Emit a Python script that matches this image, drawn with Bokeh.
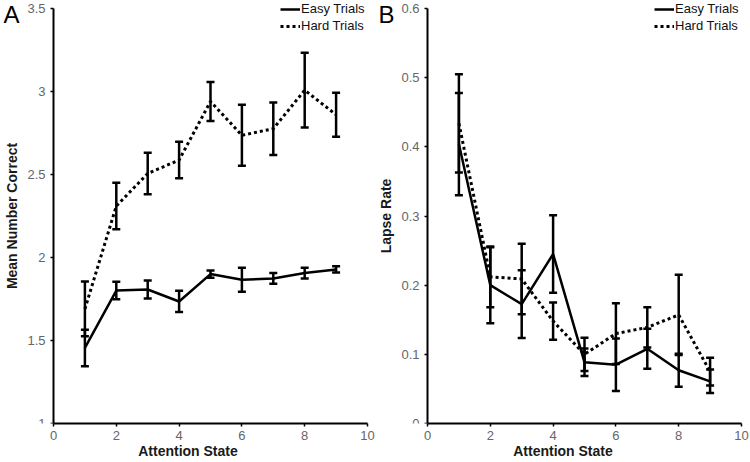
from bokeh.plotting import figure
from bokeh.layouts import row
from bokeh.models import (ColumnDataSource, Whisker, TeeHead, FixedTicker,
                          CustomJSTickFormatter, Legend, LegendItem, Range1d, Label)
from bokeh.embed import file_html
from bokeh.resources import INLINE

# ---------------- data ----------------
attention_state = [1, 2, 3, 4, 5, 6, 7, 8, 9]

easy_correct = [1.455, 1.801, 1.807, 1.735, 1.900, 1.866, 1.874, 1.906, 1.928]
easy_correct_err = [0.110, 0.053, 0.054, 0.064, 0.022, 0.073, 0.032, 0.033, 0.019]
hard_correct = [1.690, 2.310, 2.506, 2.587, 2.940, 2.736, 2.776, 3.008, 2.860]
hard_correct_err = [0.165, 0.140, 0.125, 0.110, 0.117, 0.184, 0.158, 0.225, 0.133]

easy_lapse = [0.404, 0.200, 0.1725, 0.245, 0.0885, 0.085, 0.108, 0.077, 0.061]
easy_lapse_err = [0.074, 0.055, 0.049, 0.056, 0.020, 0.038, 0.029, 0.024, 0.017]
hard_lapse = [0.434, 0.212, 0.209, 0.148, 0.100, 0.130, 0.139, 0.157, 0.075]
hard_lapse_err = [0.071, 0.044, 0.051, 0.027, 0.024, 0.044, 0.029, 0.058, 0.020]

x_ticks = [0, 2, 4, 6, 8, 10]
left_y_ticks = [1, 1.5, 2, 2.5, 3, 3.5]
right_y_ticks = [0, 0.1, 0.2, 0.3, 0.4, 0.5, 0.6]

FONT = "Liberation Sans"
fmt = CustomJSTickFormatter(code="return tick.toString();")

FIG_W = 375
FIG_H = 462
BORDER_BOTTOM = 39
FRAME_H = FIG_H - BORDER_BOTTOM      # frame covers the whole figure above the x axis
PLOT_TOP = 8                          # pixel row of the top of the value axis


def make_panel(pad_left, pad_right, y_lim, y_ticks, y_label,
               easy, easy_err, hard, hard_err, letter):
    # the frame spans the whole panel; axes are pinned at x = 0 and bounded,
    # so that the legend and panel letter can sit where the reference has them
    x_lim = (0, 10)
    px_x = (FIG_W - pad_left - pad_right) / (x_lim[1] - x_lim[0])
    px_y = (FRAME_H - PLOT_TOP) / (y_lim[1] - y_lim[0])
    xr = Range1d(x_lim[0] - pad_left / px_x, x_lim[1] + pad_right / px_x)
    yr = Range1d(y_lim[0], y_lim[1] + PLOT_TOP / px_y)

    p = figure(width=FIG_W, height=FIG_H, output_backend="svg", toolbar_location=None,
               x_range=xr, y_range=yr,
               min_border_left=0, min_border_right=0,
               min_border_top=0, min_border_bottom=BORDER_BOTTOM)
    p.outline_line_color = None
    p.grid.visible = False
    p.background_fill_color = "white"
    p.border_fill_color = "white"

    for ax in (p.xaxis[0], p.yaxis[0]):
        ax.axis_line_color = "black"
        ax.axis_line_width = 2
        ax.major_tick_line_color = "black"
        ax.major_tick_line_width = 1.5
        ax.major_tick_out = 3
        ax.major_tick_in = 0
        ax.minor_tick_line_color = None
        ax.major_label_text_font = FONT
        ax.major_label_text_font_size = "13px"
        ax.major_label_text_color = "#666666"
        ax.axis_label_text_font = FONT
        ax.axis_label_text_font_size = "14px"
        ax.axis_label_text_font_style = "bold"
        ax.axis_label_text_color = "#1a1a1a"
        ax.formatter = fmt
    xa, ya = p.xaxis[0], p.yaxis[0]
    xa.ticker = FixedTicker(ticks=x_ticks)
    ya.ticker = FixedTicker(ticks=y_ticks)
    xa.bounds = x_lim
    ya.bounds = y_lim
    ya.fixed_location = 0
    xa.axis_label = "Attention State"
    ya.axis_label = y_label
    xa.major_label_standoff = 4
    xa.axis_label_standoff = 0
    ya.major_label_standoff = 5
    ya.axis_label_standoff = 4

    src_e = ColumnDataSource(dict(
        x=attention_state, y=easy,
        lo=[m - e for m, e in zip(easy, easy_err)],
        hi=[m + e for m, e in zip(easy, easy_err)]))
    src_h = ColumnDataSource(dict(
        x=attention_state, y=hard,
        lo=[m - e for m, e in zip(hard, hard_err)],
        hi=[m + e for m, e in zip(hard, hard_err)]))

    r_e = p.line("x", "y", source=src_e, line_color="black", line_width=2.5)
    r_h = p.line("x", "y", source=src_h, line_color="black", line_width=3,
                 line_dash="3 3")

    for src in (src_e, src_h):
        w = Whisker(base="x", lower="lo", upper="hi", source=src,
                    line_color="black", line_width=2.5,
                    upper_head=TeeHead(size=8, line_width=2.5, line_color="black"),
                    lower_head=TeeHead(size=8, line_width=2.5, line_color="black"))
        p.add_layout(w)

    legend = Legend(items=[LegendItem(label="Easy Trials", renderers=[r_e]),
                           LegendItem(label="Hard Trials", renderers=[r_h])],
                    location=(pad_left + 227, FRAME_H - 33))
    legend.border_line_color = None
    legend.background_fill_alpha = 0
    legend.label_text_font = FONT
    legend.label_text_font_size = "13px"
    legend.label_text_color = "#111111"
    legend.label_standoff = 1
    legend.glyph_width = 20
    legend.glyph_height = 14
    legend.label_height = 14
    legend.spacing = 2
    legend.padding = 0
    legend.margin = 0
    p.add_layout(legend)

    p.add_layout(Label(x=3, y=FRAME_H - 14, x_units="screen", y_units="screen",
                       text=letter, text_font=FONT, text_font_size="24px",
                       text_color="black", text_align="left",
                       text_baseline="alphabetic"))
    return p


left = make_panel(53, 8, (1, 3.5), left_y_ticks, "Mean Number Correct",
                  easy_correct, easy_correct_err, hard_correct, hard_correct_err, "A")
right = make_panel(52, 9, (0, 0.6), right_y_ticks, "Lapse Rate",
                   easy_lapse, easy_lapse_err, hard_lapse, hard_lapse_err, "B")

layout = row(left, right)
open("out.html", "w").write(file_html(layout, INLINE))
